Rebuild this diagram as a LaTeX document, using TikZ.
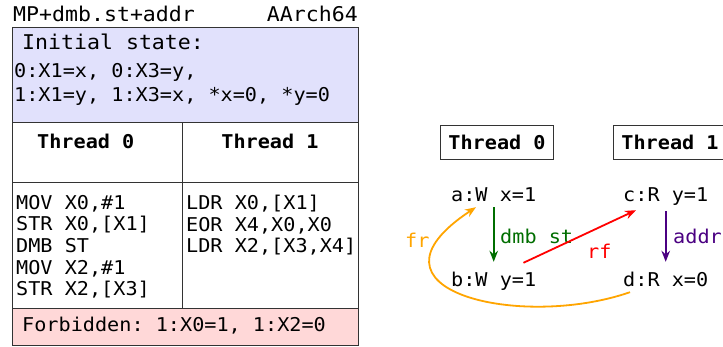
\documentclass[tikz,border=0pt]{standalone}
\usepackage{fontspec}
\setmonofont{DejaVu Sans Mono}[FakeStretch=1.062]
\usetikzlibrary{calc,arrows.meta}

\definecolor{initfill}{RGB}{225,225,252}
\definecolor{forbfill}{RGB}{255,216,216}
\definecolor{dmbc}{RGB}{0,110,0}
\definecolor{addrc}{RGB}{75,0,130}
\definecolor{rfc}{RGB}{255,0,0}
\definecolor{frc}{RGB}{255,165,0}

\newcommand\litmusfont{\ttfamily\fontsize{19}{21.6}\selectfont}
\newcommand\litmusbold{\ttfamily\bfseries\fontsize{19}{21.6}\selectfont}
\newcommand\litmustitle{\ttfamily\fontsize{20.3}{22}\selectfont}

\tikzset{
  tbl/.style={draw=black!80, line width=1pt},
  txt/.style={inner sep=0pt, anchor=base west},
  ev/.style={inner sep=0pt, anchor=base west, text height=13pt, text depth=4pt},
  thr/.style={draw=black!80, line width=1pt, font=\litmusbold,
              minimum width=113pt, minimum height=34pt, inner sep=0pt, anchor=north west},
  rel/.style={line width=1.8pt, -{Stealth[length=11pt,width=8.5pt]}},
}

\begin{document}
\begin{tikzpicture}[x=1pt, y=-1pt, font=\litmusfont]
  \useasboundingbox (0,0) rectangle (723,347);
  \fill[white] (0,0) rectangle (723,347);

  % test header
  \node[txt, font=\litmustitle] (title) at (13,22) {MP+dmb.st+addr};
  \node[inner sep=0pt, anchor=base east, font=\litmustitle] (arch) at (358,22) {AArch64};

  % table body
  \fill[initfill] (12.5,28) rectangle (358.5,123);
  \fill[forbfill] (12.5,309) rectangle (358.5,345.5);
  \draw[tbl] (12.5,28) rectangle (358.5,345.5);
  \draw[tbl] (12.5,123) -- (358.5,123);
  \draw[tbl] (12.5,183) -- (358.5,183);
  \draw[tbl] (12.5,309) -- (358.5,309);
  \draw[tbl] (182,123) -- (182,309);

  \node[txt, font=\litmustitle] (init) at (22,50) {Initial state:};
  \node[txt] (initA) at (14,78) {0:X1=x, 0:X3=y,};
  \node[txt] (initB) at (14,102) {1:X1=y, 1:X3=x, *x=0, *y=0};

  \node[txt, font=\litmusbold] (h0) at (37,149) {Thread 0};
  \node[inner sep=0pt, anchor=base, font=\litmusbold] (h1) at (270,149) {Thread 1};

  \node[anchor=north west, inner sep=0pt, align=left] (code0) at (16,195)
    {MOV X0,\#1\\STR X0,[X1]\\DMB ST\\MOV X2,\#1\\STR X2,[X3]};
  \node[anchor=north west, inner sep=0pt, align=left] (code1) at (186,195)
    {LDR X0,[X1]\\EOR X4,X0,X0\\LDR X2,[X3,X4]};

  \node[txt] (forb) at (22,332) {Forbidden: 1:X0=1, 1:X2=0};

  % execution graph
  \node[thr] (t0) at (440,125) {Thread 0};
  \node[thr] (t1) at (613,125) {Thread 1};

  \node[ev] (a) at (451,202) {a:W x=1};
  \node[ev] (b) at (451,287) {b:W y=1};
  \node[ev] (c) at (623,202) {c:R y=1};
  \node[ev] (d) at (623,287) {d:R x=0};

  \node[txt, text=dmbc] (ldmb) at (500,244) {dmb st};
  \node[txt, text=addrc] (laddr) at (673,244) {addr};
  \node[txt, text=rfc] (lrf) at (587,259) {rf};
  \node[txt, text=frc] (lfr) at (405,248) {fr};

  \draw[rel, dmbc] ($(a.south)+(0,1)$) -- ($(b.north)+(0,-12)$);
  \draw[rel, addrc] ($(c.south)+(0,5)$) -- ($(d.north)+(0,-12)$);
  \draw[rel, rfc] ($(b.north east)+(-13,-11)$) -- ($(c.south west)+(13,4)$);
  \draw[rel, frc] ($(d.south west)+(7,1)$)
    .. controls +(-110,38) and +(-126,83) .. ($(a.south west)+(25,1)$);
\end{tikzpicture}
\end{document}
